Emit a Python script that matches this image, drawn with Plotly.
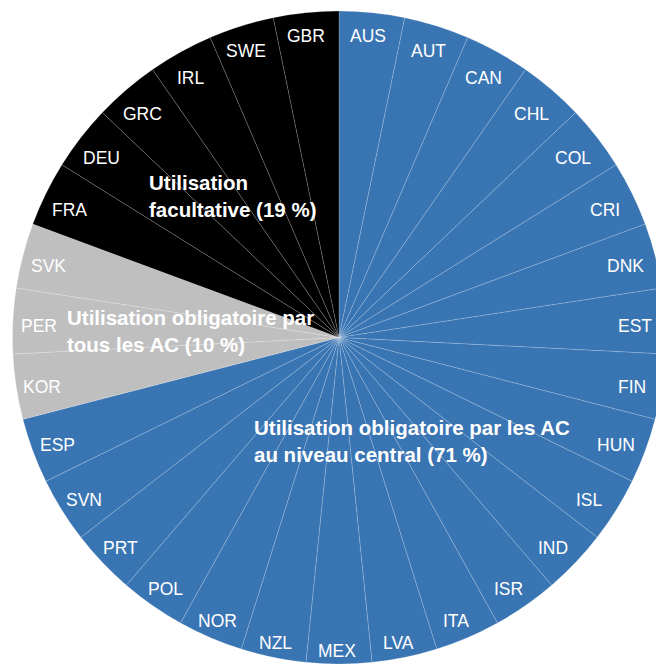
import math
import plotly.graph_objects as go

# Countries, clockwise from 12 o'clock
countries = ["AUS", "AUT", "CAN", "CHL", "COL", "CRI", "DNK", "EST", "FIN", "HUN",
             "ISL", "IND", "ISR", "ITA", "LVA", "MEX", "NZL", "NOR", "POL", "PRT",
             "SVN", "ESP", "KOR", "PER", "SVK", "FRA", "DEU", "GRC", "IRL", "SWE", "GBR"]
# Each country counts once
shares = [1, 1, 1, 1, 1, 1, 1, 1, 1, 1, 1, 1, 1, 1, 1, 1, 1, 1, 1, 1, 1, 1,
          1, 1, 1, 1, 1, 1, 1, 1, 1]
# Usage regime of each country
regimes = ["central"] * 22 + ["all"] * 3 + ["optional"] * 6

regime_colors = {"central": "#3a75b3", "all": "#bfbfbf", "optional": "#000000"}
regime_titles = {
    "central": "Utilisation obligatoire par les AC<br>au niveau central ({} %)",
    "all": "Utilisation obligatoire par<br>tous les AC ({} %)",
    "optional": "Utilisation<br>facultative ({} %)",
}
# left edge / top of first line of each regime caption (px)
regime_caption_pos = {"central": (252, 414), "all": (65, 304), "optional": (147, 169)}

W, H = 666, 664
x0, x1 = 12, 666          # pie domain in px
y0, y1 = 11, 664
cx = (x0 + x1) / 2
cy = (y0 + y1) / 2

label_font = "Liberation Sans Narrow, Arial Narrow, Liberation Sans, Arial, sans-serif"

fig = go.Figure(go.Pie(
    labels=countries,
    values=shares,
    sort=False,
    direction="clockwise",
    rotation=0,
    marker=dict(colors=[regime_colors[r] for r in regimes],
                line=dict(color="rgba(255,255,255,0.35)", width=0.5)),
    textinfo="none",
    hoverinfo="label",
    showlegend=False,
    domain=dict(x=[x0 / W, x1 / W], y=[1 - y1 / H, 1 - y0 / H]),
))

annotations = []
total = sum(shares)
acc = 0
for name, v in zip(countries, shares):
    mid = (acc + v / 2) / total * 2 * math.pi
    acc += v
    s, c = math.sin(mid), math.cos(mid)
    # labels sit near the rim; pushed a little further out near 12 and 6 o'clock
    r = 298 + 9 * c ** 8
    px = cx - 2 + r * s
    py = cy + 3.5 - r * c + 2.5 * max(0.0, -c)
    annotations.append(dict(
        x=px / W, y=1 - py / H, xref="paper", yref="paper",
        text=name, showarrow=False, xanchor="center", yanchor="middle",
        font=dict(family=label_font, size=17.5, color="white"),
    ))

for key in ["central", "all", "optional"]:
    n = sum(v for v, g in zip(shares, regimes) if g == key)
    pct = round(100 * n / total)
    lx, ly = regime_caption_pos[key]
    annotations.append(dict(
        x=lx / W, y=1 - ly / H, xref="paper", yref="paper",
        text="<b>" + regime_titles[key].format(pct) + "</b>",
        showarrow=False, xanchor="left", yanchor="top", align="left",
        font=dict(family=label_font, size=20.5, color="white"),
    ))

fig.update_layout(
    width=W, height=H,
    margin=dict(l=0, r=0, t=0, b=0),
    paper_bgcolor="white",
    plot_bgcolor="white",
    annotations=annotations,
)

fig.write_html(
    "out.html",
    post_script="document.documentElement.style.overflow='hidden';"
                "document.body.style.overflow='hidden';document.body.style.margin='0';",
)
